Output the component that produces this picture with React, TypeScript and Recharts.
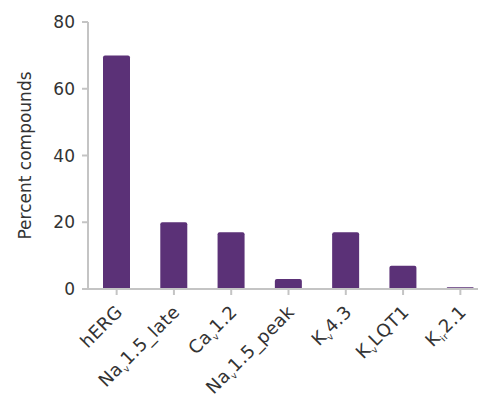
import { BarChart, Bar, XAxis, YAxis } from "recharts";

const channels = ["hERG", "Nav1.5_late", "Cav1.2", "Nav1.5_peak", "Kv4.3", "KvLQT1", "Kir2.1"];
const percents = [70, 20, 17, 3, 17, 7, 0.5];
const yTicks = [0, 20, 40, 60, 80];

// label pieces: [main, subscript, rest]
const labelParts: Record<string, [string, string, string]> = {
  hERG: ["hERG", "", ""],
  "Nav1.5_late": ["Na", "v", "1.5_late"],
  "Cav1.2": ["Ca", "v", "1.2"],
  "Nav1.5_peak": ["Na", "v", "1.5_peak"],
  "Kv4.3": ["K", "v", "4.3"],
  KvLQT1: ["K", "v", "LQT1"],
  "Kir2.1": ["K", "ir", "2.1"],
};

const data = channels.map((name, i) => ({ name, value: percents[i] }));

const FONT = "'DejaVu Sans', sans-serif";
const AXIS = "#c4c4c4";
const TEXT = "#333333";

const ChannelTick = (props: any) => {
  const { x, y, payload } = props;
  const [main, sub, rest] = labelParts[payload.value];
  const tx = x + 7;
  const ty = y + 16;
  return (
    <text
      x={tx}
      y={ty}
      transform={`rotate(-45, ${tx}, ${ty})`}
      textAnchor="end"
      fill={TEXT}
      fontSize={18}
      letterSpacing={0.4}
      fontFamily={FONT}
    >
      <tspan>{main}</tspan>
      {sub && (
        <tspan fontSize={9} dy={4}>
          {sub}
        </tspan>
      )}
      {rest && <tspan dy={sub ? -4 : 0}>{rest}</tspan>}
    </text>
  );
};

export default function App() {
  return (
    <div style={{ position: "absolute", left: 0, top: 0, width: 478, height: 401, overflow: "hidden", background: "#fff" }}>
      <BarChart width={500} height={401} data={data} margin={{ top: 22, right: 11, bottom: 0, left: 0 }}>
        <XAxis
          dataKey="name"
          height={112}
          interval={0}
          stroke={AXIS}
          strokeWidth={2}
          tickSize={6}
          tick={<ChannelTick />}
        />
        <YAxis
          width={88}
          domain={[0, 80]}
          ticks={yTicks}
          stroke={AXIS}
          strokeWidth={2}
          tickSize={6}
          tickMargin={7}
          tick={{ fill: TEXT, fontSize: 17, fontFamily: FONT }}
          label={{
            value: "Percent compounds",
            angle: -90,
            position: "insideLeft",
            offset: 0,
            dx: 25,
            style: { textAnchor: "middle", fill: TEXT, fontSize: 17, fontFamily: FONT },
          }}
        />
        <Bar dataKey="value" fill="#5b3177" barSize={27} radius={[2, 2, 0, 0]} isAnimationActive={false} />
      </BarChart>
    </div>
  );
}
